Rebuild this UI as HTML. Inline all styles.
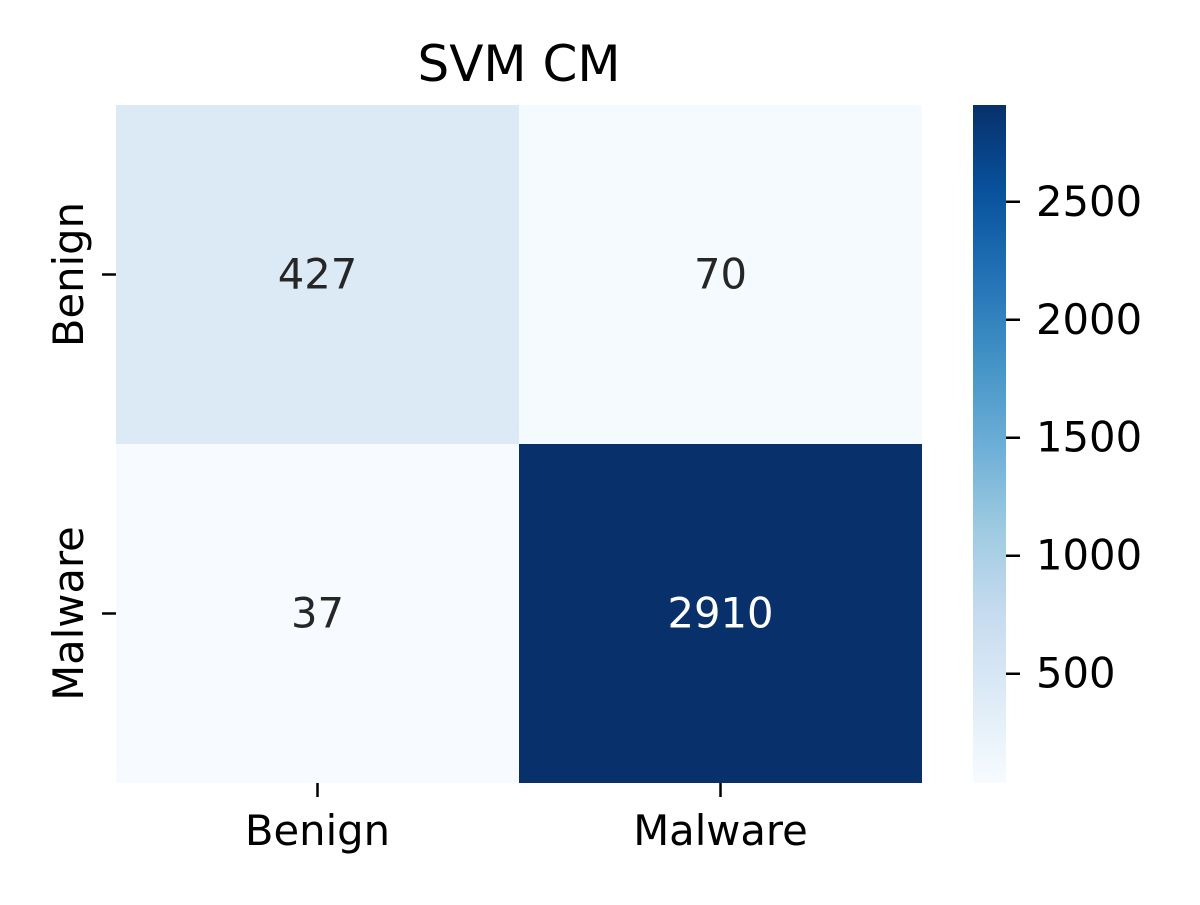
<!DOCTYPE html>
<html><head><meta charset="utf-8"><style>
body{margin:0;background:#fff}
svg text{font-family:"DejaVu Sans","Liberation Sans",sans-serif;}
</style></head><body>
<svg id="c" width="1200" height="900" xmlns="http://www.w3.org/2000/svg">
<defs><linearGradient id="cbg" x1="0" y1="1" x2="0" y2="0"></linearGradient></defs>
<text x="519" y="81" font-size="50" text-anchor="middle" fill="#000">SVM CM</text>
</svg>
<script>
const labels=["Benign","Malware"];
const values=[[427,70],[37,2910]];
const cbTicks=[500,1000,1500,2000,2500];
const stops=["#f7fbff","#deebf7","#c6dbef","#9ecae1","#6baed6","#4292c6","#2171b5","#08519c","#08306b"];
const svg=document.getElementById('c');const NS="http://www.w3.org/2000/svg";
function mk(t,a,p){const e=document.createElementNS(NS,t);for(const k in a)e.setAttribute(k,a[k]);(p||svg).appendChild(e);return e;}
function hex(h){return [1,3,5].map(i=>parseInt(h.substr(i,2),16));}
function blues(t){t=Math.max(0,Math.min(1,t));const s=t*(stops.length-1);const i=Math.min(Math.floor(s),stops.length-2);const f=s-i;const a=hex(stops[i]),b=hex(stops[i+1]);return `rgb(${a.map((v,k)=>Math.round(v+(b[k]-v)*f)).join(',')})`;}
const flat=values.flat();const vmin=Math.min(...flat),vmax=Math.max(...flat);
const X0=116,X1=922,Y0=105,Y1=783;
const FS=41.7;
const cw=(X1-X0)/labels.length,ch=(Y1-Y0)/labels.length;
const xs=j=>X0+j*cw, ys=i=>Y0+i*ch;
values.forEach((row,i)=>row.forEach((v,j)=>{
 const t=(v-vmin)/(vmax-vmin);
 const r=mk('rect',{x:xs(j),y:ys(i),width:cw,height:ch,fill:blues(t)});
 
 
 const tx=mk('text',{x:xs(j)+cw/2,y:ys(i)+ch/2+14,'font-size':FS,'text-anchor':'middle',fill:t>0.5?'#fff':'#262626'});
 tx.textContent=v;
 
 
}));
labels.forEach((l,k)=>{
 const cx=xs(k)+cw/2;
 mk('line',{x1:cx,x2:cx,y1:Y1,y2:Y1+14,stroke:'#000','stroke-width':2.5});
 const t=mk('text',{x:cx,y:Y1+62,'font-size':FS,'text-anchor':'middle'});t.textContent=l;
 
 
 const cy=ys(k)+ch/2;
 mk('line',{x1:X0-14,x2:X0,y1:cy,y2:cy,stroke:'#000','stroke-width':2.5});
 const u=mk('text',{x:0,y:0,'font-size':FS,'text-anchor':'middle',transform:`translate(${X0-33},${cy}) rotate(-90)`});u.textContent=l;
 
 
});
const CX0=973,CX1=1006;
const g=document.getElementById('cbg');
stops.forEach((s,i)=>mk('stop',{offset:i/(stops.length-1),'stop-color':s},g));
const cb=mk('rect',{x:CX0,y:Y0,width:CX1-CX0,height:Y1-Y0,fill:'url(#cbg)'});


const cy=v=>Y1-(v-vmin)/(vmax-vmin)*(Y1-Y0);
cbTicks.forEach(v=>{
 mk('line',{x1:CX1,x2:CX1+14,y1:cy(v),y2:cy(v),stroke:'#000','stroke-width':2.5});
 const t=mk('text',{x:CX1+30,y:cy(v)+14,'font-size':FS});t.textContent=v;
 
 
});
</script>
</body></html>
